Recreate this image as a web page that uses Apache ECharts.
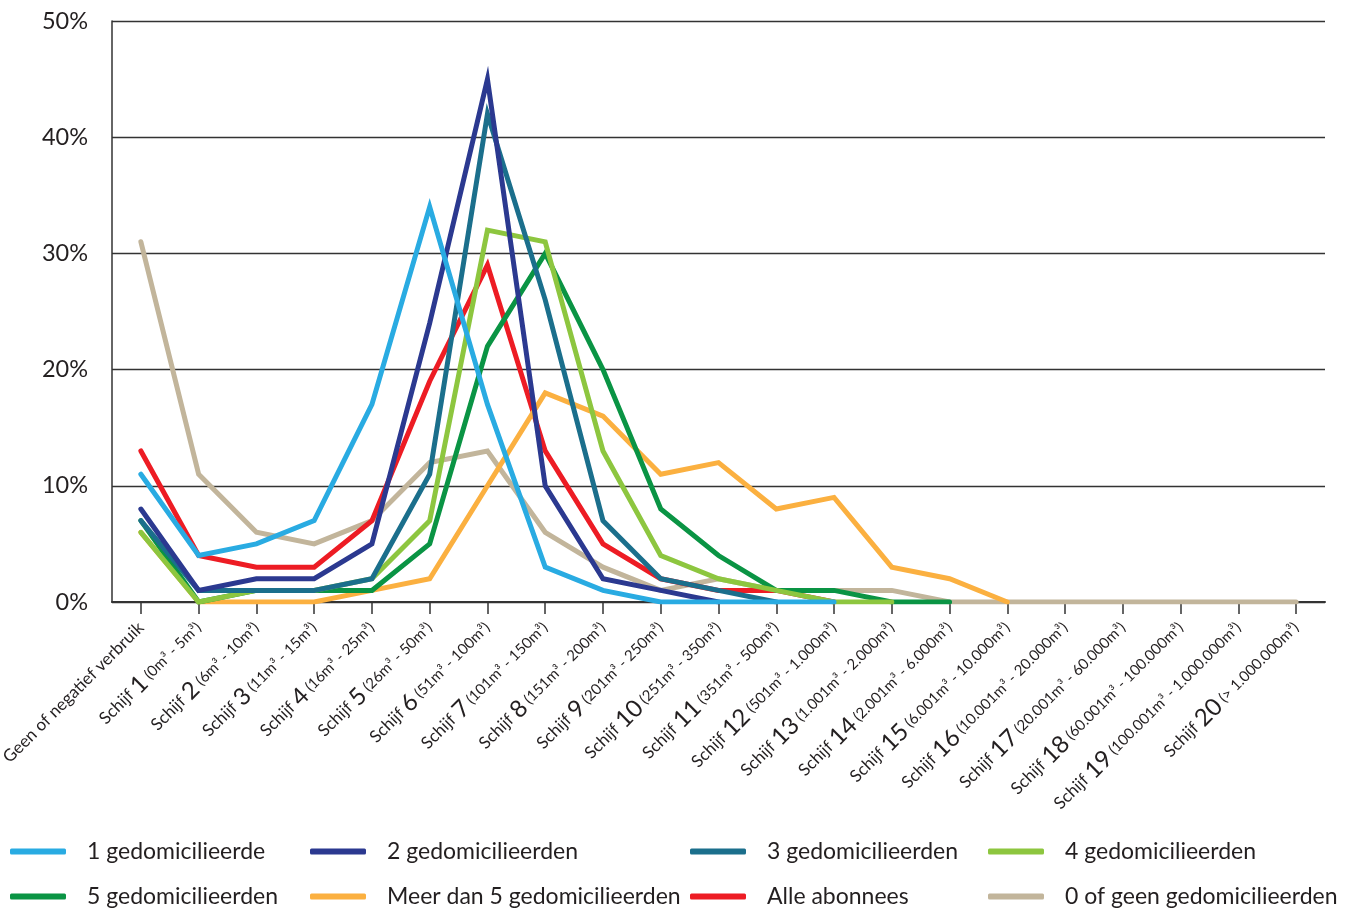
<!DOCTYPE html>
<html>
<head>
<meta charset="utf-8">
<script src="https://cdn.jsdelivr.net/npm/echarts@6/dist/echarts.min.js"></script>
<style>
html,body{margin:0;padding:0;background:#fff;}
#c{width:1357px;height:910px;}
</style>
</head>
<body>
<div id="c"></div>
<script>
const categories = [
  'Geen of negatief verbruik',
  'Schijf 1 (0m³ - 5m³)',
  'Schijf 2 (6m³ - 10m³)',
  'Schijf 3 (11m³ - 15m³)',
  'Schijf 4 (16m³ - 25m³)',
  'Schijf 5 (26m³ - 50m³)',
  'Schijf 6 (51m³ - 100m³)',
  'Schijf 7 (101m³ - 150m³)',
  'Schijf 8 (151m³ - 200m³)',
  'Schijf 9 (201m³ - 250m³)',
  'Schijf 10 (251m³ - 350m³)',
  'Schijf 11 (351m³ - 500m³)',
  'Schijf 12 (501m³ - 1.000m³)',
  'Schijf 13 (1.001m³ - 2.000m³)',
  'Schijf 14 (2.001m³ - 6.000m³)',
  'Schijf 15 (6.001m³ - 10.000m³)',
  'Schijf 16 (10.001m³ - 20.000m³)',
  'Schijf 17 (20.001m³ - 60.000m³)',
  'Schijf 18 (60.001m³ - 100.000m³)',
  'Schijf 19 (100.001m³ - 1.000.000m³)',
  'Schijf 20 (> 1.000.000m³)'
];
const yTicks = [0, 10, 20, 30, 40, 50];

const seriesNames = [
  '1 gedomicilieerde',
  '2 gedomicilieerden',
  '3 gedomicilieerden',
  '4 gedomicilieerden',
  '5 gedomicilieerden',
  'Meer dan 5 gedomicilieerden',
  'Alle abonnees',
  '0 of geen gedomicilieerden'
];
const een      = [11, 4, 5, 7, 17, 34, 17, 3, 1, 0, 0, 0, 0];
const twee     = [8, 1, 2, 2, 5, 24, 45, 10, 2, 1, 0];
const drie     = [7, 1, 1, 1, 2, 11, 42, 26, 7, 2, 1, 0];
const vier     = [6, 0, 1, 1, 2, 7, 32, 31, 13, 4, 2, 1, 0, 0];
const vijf     = [7, 0, 1, 1, 1, 5, 22, 30, 20, 8, 4, 1, 1, 0, 0];
const meerDan5 = [6, 0, 0, 0, 1, 2, 10, 18, 16, 11, 12, 8, 9, 3, 2, 0];
const alle     = [13, 4, 3, 3, 7, 19, 29, 13, 5, 2, 1, 1, 0];
const nul      = [31, 11, 6, 5, 7, 12, 13, 6, 3, 1, 2, 1, 1, 1, 0, 0, 0, 0, 0, 0, 0];

const seriesValues = [een, twee, drie, vier, vijf, meerDan5, alle, nul];
const colors = ['#29abe2', '#2b3990', '#1b6f8c', '#8dc63f', '#0a9444', '#fbb040', '#ed1c24', '#c2b59b'];

const FONT = 'Lato, "Open Sans", sans-serif';
const TXT = '#231f20';

const legendPos = [
  [10, 840], [310, 840], [690, 840], [988, 840],
  [10, 885], [310, 885], [690, 885], [988, 885]
];

const chart = echarts.init(document.getElementById('c'), null, {renderer: 'canvas'});

const option = {
  animation: false,
  backgroundColor: '#fff',
  color: colors,
  textStyle: {fontFamily: FONT, color: TXT},
  grid: {left: 112, right: 32, top: 21, bottom: 308, containLabel: false, outerBoundsMode: 'none'},
  legend: seriesNames.map((n, i) => ({
    data: [n],
    left: legendPos[i][0],
    top: legendPos[i][1],
    icon: 'roundRect',
    itemWidth: 56,
    itemHeight: 6,
    padding: 0,
    selectedMode: false,
    textStyle: {fontFamily: FONT, fontSize: 23, color: TXT, padding: [0, 0, 0, 16]}
  })),
  xAxis: {
    type: 'category',
    data: categories,
    boundaryGap: true,
    axisLine: {show: true, lineStyle: {color: '#333', width: 2}},
    axisTick: {show: true, alignWithLabel: true, length: 12, lineStyle: {color: '#333', width: 1.5}},
    splitLine: {show: false},
    axisLabel: {
      interval: 0,
      rotate: 45,
      margin: 23,
      color: TXT,
      fontFamily: FONT,
      formatter: function (v) {
        const m = v.match(/^Schijf (\d+) (.*)$/);
        if (!m) return '{g|' + v + '}';
        return '{s|Schijf }{n|' + m[1] + '}{r| ' + m[2] + '}';
      },
      rich: {
        g: {fontSize: 17, fontFamily: FONT, color: TXT},
        s: {fontSize: 17, fontFamily: FONT, color: TXT},
        n: {fontSize: 24, fontFamily: FONT, color: TXT},
        r: {fontSize: 15, fontFamily: FONT, color: TXT}
      }
    }
  },
  yAxis: {
    type: 'value',
    min: yTicks[0],
    max: yTicks[yTicks.length - 1],
    interval: 10,
    axisLine: {show: true, lineStyle: {color: '#333', width: 1.5}},
    axisTick: {show: false},
    splitLine: {show: true, lineStyle: {color: '#333', width: 1.3}},
    axisLabel: {formatter: '{value}%', fontSize: 23.5, margin: 24, color: TXT, fontFamily: FONT}
  },
  series: seriesValues.map((vals, i) => ({
    name: seriesNames[i],
    type: 'line',
    data: categories.map((c, k) => (k < vals.length ? vals[k] : null)),
    symbol: 'none',
    showSymbol: false,
    connectNulls: false,
    z: 20 - i,
    lineStyle: {width: 5, color: colors[i], cap: 'round', join: 'miter'},
    itemStyle: {color: colors[i]}
  }))
};
chart.setOption(option);
</script>
</body>
</html>
